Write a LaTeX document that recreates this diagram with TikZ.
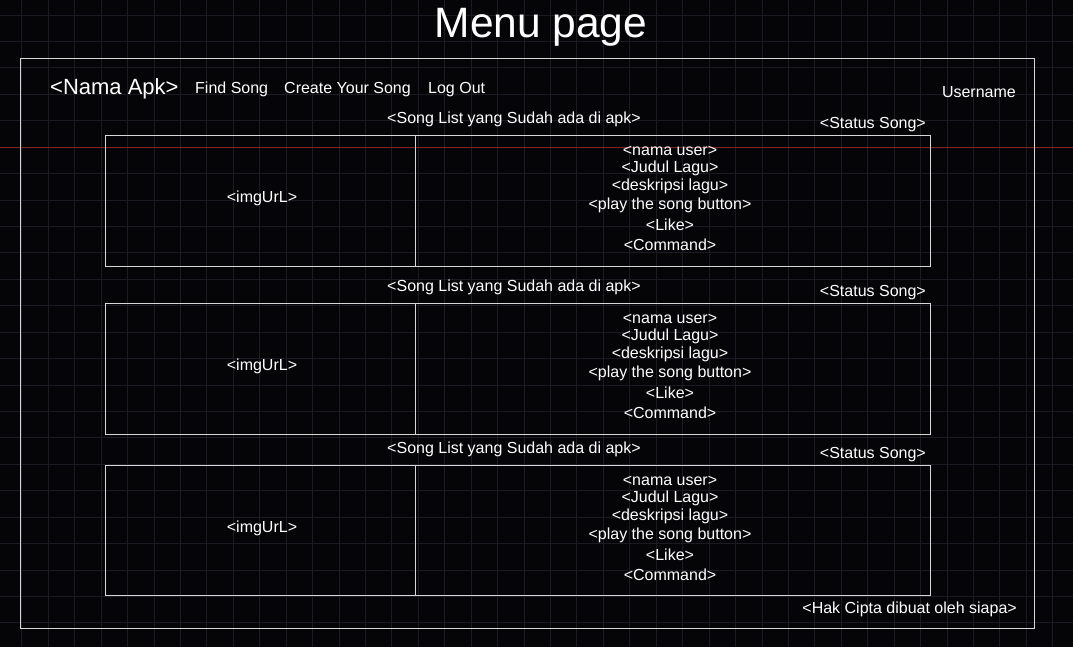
\documentclass[tikz,border=0pt]{standalone}
\usepackage{fontspec}
\setmainfont{Liberation Sans}
\definecolor{bgblack}{RGB}{5,5,8}
\definecolor{gridgray}{RGB}{27,27,36}
\definecolor{redline}{RGB}{135,35,35}
\definecolor{frameline}{RGB}{215,215,215}

\begin{document}
\begin{tikzpicture}[x=1pt, y=-1pt,
  every node/.style = {text=white, inner sep=0pt, yshift=-1pt},
  txt/.style = {font=\fontsize{16}{18}\selectfont},
  box/.style = {draw=frameline, line width=0.9pt},
  gridline/.style = {draw=gridgray, line width=0.9pt}]
  \fill[bgblack] (0,0) rectangle (1073,647);
  \useasboundingbox (0,0) rectangle (1073,647);
  \foreach \i in {0,...,39}
    \draw[gridline] ({21.9+\i*26.43},0) -- ++(0,647);
  \foreach \j in {0,...,24}
    \draw[gridline] (0,{15+\j*26.43}) -- ++(1073,0);
  \draw[redline, line width=0.8pt] (0,147) -- (1073,147);

  \node[font=\fontsize{42.5}{46}\selectfont, yshift=-2pt] (title) at (541,24) {Menu page};
  \draw[box] (20,58) rectangle (1034,628);

  \node[font=\fontsize{22}{24}\selectfont, anchor=west] (apk) at (50,88) {<Nama Apk>};
  \node[txt, anchor=west] (find) at (195,88) {Find Song};
  \node[txt, anchor=west] (create) at (284,89) {Create Your Song};
  \node[txt, anchor=west] (logout) at (428,89) {Log Out};
  \node[txt, anchor=east] (user) at (1016,91) {Username};

  \foreach \n/\top/\h in {1/135/131, 2/303/131, 3/465/130} {
    \draw[box] (105,\top) rectangle (930,\top+\h);
    \draw[box] (415,\top) -- (415,\top+\h);
    \node[txt] (list\n) at (514,\top-17) {<Song List yang Sudah ada di apk>};
    \node[txt, anchor=east] (status\n) at (926,\top-11) {<Status Song>};
    \node[txt] (img\n) at (262,\top+62) {<imgUrL>};
    \node[txt] (user\n) at (670,\top+15) {<nama user>};
    \node[txt] (judul\n) at (670,\top+32) {<Judul Lagu>};
    \node[txt] (desk\n) at (670,\top+50) {<deskripsi lagu>};
    \node[txt] (play\n) at (670,\top+69) {<play the song button>};
    \node[txt] (like\n) at (670,\top+89) {<Like>};
    \node[txt] (cmd\n) at (670,\top+109) {<Command>};
  }

  \node[txt, anchor=east] (hak) at (1017,608) {<Hak Cipta dibuat oleh siapa>};
\end{tikzpicture}
\end{document}
